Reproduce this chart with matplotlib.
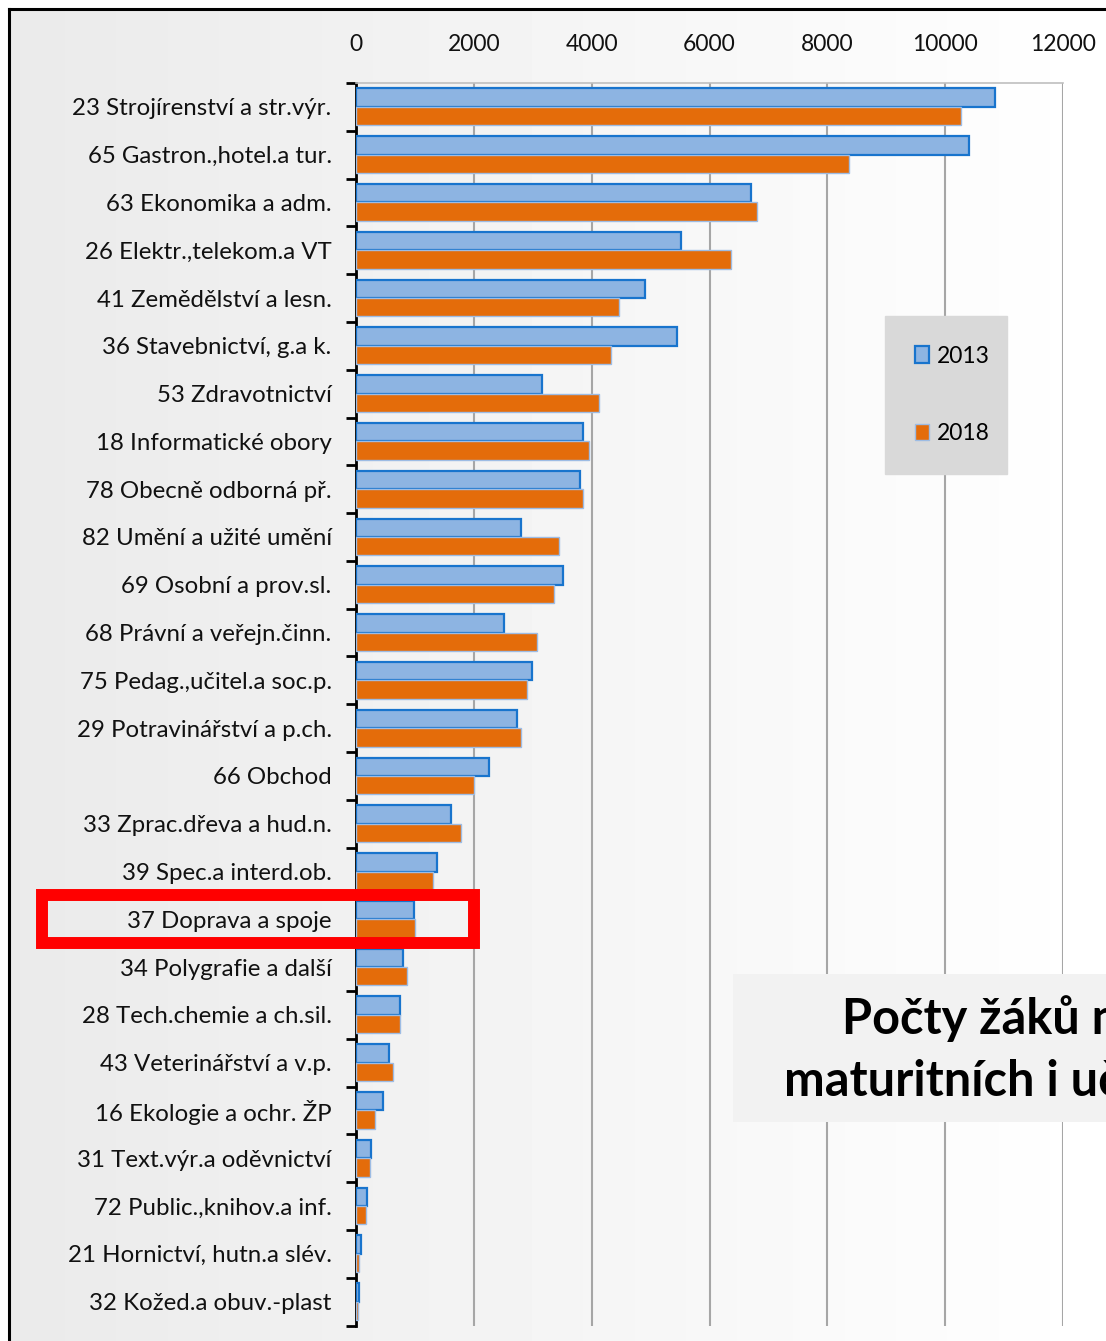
import matplotlib
matplotlib.use("Agg")
import matplotlib.pyplot as plt
import numpy as np
from matplotlib.patches import Rectangle
from matplotlib.lines import Line2D

categories = [
    "23 Strojírenství a str.výr.",
    "65 Gastron.,hotel.a tur.",
    "63 Ekonomika a adm.",
    "26 Elektr.,telekom.a VT",
    "41 Zemědělství a lesn.",
    "36 Stavebnictví, g.a k.",
    "53 Zdravotnictví",
    "18 Informatické obory",
    "78 Obecně odborná př.",
    "82 Umění a užité umění",
    "69 Osobní a prov.sl.",
    "68 Právní a veřejn.činn.",
    "75 Pedag.,učitel.a soc.p.",
    "29 Potravinářství a p.ch.",
    "66 Obchod",
    "33 Zprac.dřeva a hud.n.",
    "39 Spec.a interd.ob.",
    "37 Doprava a spoje",
    "34 Polygrafie a další",
    "28 Tech.chemie a ch.sil.",
    "43 Veterinářství a v.p.",
    "16 Ekologie a ochr. ŽP",
    "31 Text.výr.a oděvnictví",
    "72 Public.,knihov.a inf.",
    "21 Hornictví, hutn.a slév.",
    "32 Kožed.a obuv.-plast",
]
values_2013 = [10850, 10410, 6705, 5520, 4900, 5450, 3165, 3845, 3810, 2800, 3505, 2520,
               2995, 2725, 2250, 1605, 1370, 990, 790, 755, 560, 455, 255, 185, 85, 50]
values_2018 = [10270, 8375, 6800, 6365, 4465, 4325, 4125, 3955, 3845, 3440, 3365, 3065,
               2895, 2795, 2005, 1775, 1300, 995, 865, 750, 620, 315, 245, 175, 45, 30]
series_names = ["2013", "2018"]
xticks = [0, 2000, 4000, 6000, 8000, 10000, 12000]
highlight = "37 Doprava a spoje"
title_lines = ["Počty žáků na", "maturitních i učebních"]

W, H = 1106, 1341
fig = plt.figure(figsize=(W / 100, H / 100), dpi=100, facecolor="white")

def fx(px):
    return px / W

def fy(py):
    return 1 - py / H

# background gradient (inside the black frame)
bg = fig.add_axes([fx(9), 0, 1 - fx(9), fy(9)], zorder=-10)
grad = np.linspace(0.918, 1.0, 256)[None, :]
bg.imshow(grad, cmap="gray", vmin=0, vmax=1, aspect="auto", extent=[0, 1, 0, 1])
bg.axis("off")

ax = fig.add_axes([fx(356), fy(1325.5), fx(1063) - fx(356), fy(83) - fy(1325.5)])
ax.set_facecolor("none")

y = np.arange(len(categories))
h = 0.385
ax.barh(y - h / 2, values_2013, height=h, color="#8DB4E2", edgecolor="#1874CD",
        linewidth=1.6, label=series_names[0], zorder=3)
ax.barh(y + h / 2, values_2018, height=h, color="#E46C0A", edgecolor="#9DBCE4",
        linewidth=1.0, label=series_names[1], zorder=3)

ax.set_xlim(0, 12000)
ax.set_ylim(len(categories) - 0.5, -0.5)
ax.xaxis.tick_top()
ax.set_xticks(xticks)
ax.set_xticklabels([str(v) for v in xticks], family="Lato", fontsize=16.5, color="#111111")
ax.tick_params(axis="x", length=0, pad=20)
ax.grid(axis="x", color="#A6A6A6", linewidth=1.5, zorder=0)

ax.set_yticks(y)
ax.set_yticklabels(categories, family="Lato", fontsize=17.3, color="#111111")
ax.set_yticks(np.arange(len(categories) + 1) - 0.5, minor=True)
ax.tick_params(axis="y", which="major", length=0, pad=17.5)
ax.tick_params(axis="y", which="minor", length=7, width=2, color="black", direction="out")

for s in ["right", "bottom"]:
    ax.spines[s].set_visible(False)
ax.spines["top"].set_color("#BFBFBF")
ax.spines["top"].set_linewidth(1.2)
ax.spines["left"].set_color("black")
ax.spines["left"].set_linewidth(2)

leg = ax.legend(loc="upper left",
                bbox_to_anchor=(fx(885), fy(477), fx(1007) - fx(885), fy(316) - fy(477)),
                mode="expand", bbox_transform=fig.transFigure, borderaxespad=0, frameon=True,
                fancybox=False, facecolor="#D9D9D9", edgecolor="#D9D9D9", framealpha=1,
                prop={"family": "Lato", "size": 16.5}, labelspacing=2.45, borderpad=1.3,
                handlelength=0.62, handleheight=0.75, handletextpad=0.35)

# highlight box around one category
idx = categories.index(highlight)
rect = Rectangle((-5336, idx - 0.5), 2000 + 5336, 1.0, fill=False, edgecolor="#FF0000",
                 linewidth=8.6, clip_on=False, zorder=10)
ax.add_patch(rect)

# title box (cut off at the right edge, as in the original)
fig.patches.append(Rectangle((fx(733), fy(1122)), 1 - fx(733), fy(974) - fy(1122),
                             transform=fig.transFigure, facecolor="#F2F2F2",
                             edgecolor="none", zorder=5))
fig.text(fx(842), fy(1019), title_lines[0], family="Lato", weight="bold", fontsize=35,
         va="center", ha="left", zorder=6)
fig.text(fx(784), fy(1081), title_lines[1], family="Lato", weight="bold", fontsize=35,
         va="center", ha="left", zorder=6)

# black frame
fig.add_artist(Line2D([fx(9), fx(9)], [0, fy(9)], transform=fig.transFigure,
                      color="black", linewidth=2.2))
fig.add_artist(Line2D([fx(9), 1], [fy(9), fy(9)], transform=fig.transFigure,
                      color="black", linewidth=2.2))

fig.savefig("out.png", dpi=100, facecolor="white")
